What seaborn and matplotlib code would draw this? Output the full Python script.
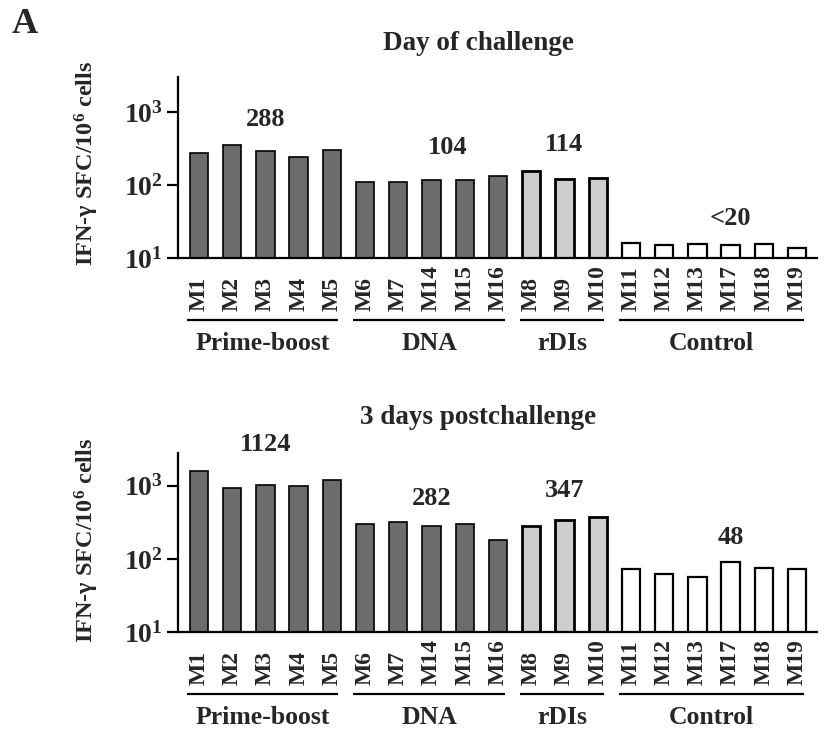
import matplotlib
matplotlib.use("Agg")
import matplotlib.pyplot as plt
import pandas as pd
import seaborn as sns
from matplotlib.transforms import ScaledTranslation
from matplotlib.ticker import LogLocator, LogFormatterSciNotation, NullLocator

# ---- data -----------------------------------------------------------------
animals = ["M1", "M2", "M3", "M4", "M5",
           "M6", "M7", "M14", "M15", "M16",
           "M8", "M9", "M10",
           "M11", "M12", "M13", "M17", "M18", "M19"]
groups = (["Prime-boost"] * 5 + ["DNA"] * 5 + ["rDIs"] * 3 + ["Control"] * 6)
group_order = ["Prime-boost", "DNA", "rDIs", "Control"]

# IFN-gamma spot-forming cells per 10^6 cells
day_of_challenge = [272, 353, 292, 244, 299,
                    108, 110, 115, 118, 134,
                    154, 121, 126,
                    16.2, 15.1, 15.4, 15.1, 15.5, 13.5]
postchallenge_3d = [1600, 930, 1020, 980, 1210,
                    301, 318, 283, 301, 180,
                    283, 339, 369,
                    73, 62, 56, 90, 74, 72]

panel_titles = ["Day of challenge", "3 days postchallenge"]
group_means_text = [["288", "104", "114", "<20"],
                    ["1124", "282", "347", "48"]]

# ---- styling ----------------------------------------------------------------
group_colors = {"Prime-boost": "#6c6c6c", "DNA": "#6c6c6c",
                "rDIs": "#cdcdcd", "Control": "#ffffff"}
group_edge_lw = {"Prime-boost": 1.2, "DNA": 1.2, "rDIs": 2.0, "Control": 1.6}
# placement of the group-mean labels (bar index, height on the value axis)
mean_label_pos = [[(2, 776), (7.5, 321), (11, 353), (16, 35)],
                  [(2, 3606), (7, 676), (11, 871), (16, 198)]]
y_tops = [3000, 2800]

sns.set_theme(style="white")
plt.rcParams["font.family"] = ["Liberation Serif", "DejaVu Serif"]
plt.rcParams["font.weight"] = "bold"
plt.rcParams["mathtext.fontset"] = "custom"
plt.rcParams["mathtext.rm"] = "Liberation Serif:bold"
plt.rcParams["mathtext.bf"] = "Liberation Serif:bold"
plt.rcParams["mathtext.it"] = "Liberation Serif:bold"

fig = plt.figure(figsize=(8.31, 7.32), dpi=100)
W, H = 831, 732
axes_px = [(178, 77, 817, 258), (178, 453, 817, 632)]  # left, top, right, bottom

series = [day_of_challenge, postchallenge_3d]
title_y = [43, 418]
ylabel_y = [163, 540]

for p in range(2):
    l, t, r, b = axes_px[p]
    ax = fig.add_axes([l / W, 1 - b / H, (r - l) / W, (b - t) / H])
    df = pd.DataFrame({"animal": animals, "value": series[p], "group": groups})
    sns.barplot(data=df, x="animal", y="value", hue="group",
                order=animals, hue_order=group_order, palette=group_colors,
                dodge=False, width=0.55, edgecolor="black", linewidth=1.2,
                legend=False, log_scale=True, ax=ax)
    for grp, cont in zip(group_order, ax.containers):
        for patch in cont:
            patch.set_linewidth(group_edge_lw[grp])
            patch.set_edgecolor("black")

    ax.set_yscale("log")
    ax.set_ylim(10, y_tops[p])
    ax.set_xlim(-0.63, len(animals) - 0.4)
    ax.yaxis.set_major_locator(LogLocator(base=10, numticks=10))
    ax.yaxis.set_major_formatter(LogFormatterSciNotation())
    ax.yaxis.set_minor_locator(NullLocator())
    ax.set_xlabel("")
    ax.set_ylabel("")

    for side in ["top", "right"]:
        ax.spines[side].set_visible(False)
    for side in ["left", "bottom"]:
        ax.spines[side].set_linewidth(1.6)
        ax.spines[side].set_color("black")

    ax.tick_params(axis="y", which="major", direction="out", length=8,
                   width=1.6, color="black", labelsize=20, pad=3, left=True)
    ax.tick_params(axis="x", length=0, pad=38, labelsize=17)
    for lab in ax.get_xticklabels():
        lab.set_rotation(90)
        lab.set_va("bottom")
        lab.set_ha("center")
        lab.set_fontweight("bold")

    # group brackets and names under the tick labels
    for grp in group_order:
        idx = [i for i, g in enumerate(groups) if g == grp]
        x0, x1 = idx[0] - 0.35, idx[-1] + 0.2
        tr_line = ax.get_xaxis_transform() + ScaledTranslation(0, -62 / 100, fig.dpi_scale_trans)
        ax.plot([x0, x1], [0, 0], color="black", lw=1.6, transform=tr_line,
                clip_on=False, solid_capstyle="butt")
        tr_txt = ax.get_xaxis_transform() + ScaledTranslation(0, -85 / 100, fig.dpi_scale_trans)
        ax.text((x0 + x1) / 2, 0, grp, transform=tr_txt, ha="center", va="center",
                fontsize=18.5, fontweight="bold")

    # group mean values above the bars
    for txt, (xi, yv) in zip(group_means_text[p], mean_label_pos[p]):
        ax.text(xi, yv, txt, ha="center", va="center", fontsize=19,
                fontweight="bold", clip_on=False)

    fig.text(478 / W, 1 - title_y[p] / H, panel_titles[p], ha="center",
             va="center", fontsize=19.5, fontweight="bold")
    fig.text(87 / W, 1 - ylabel_y[p] / H, r"IFN-γ SFC/10$^{6}$ cells",
             rotation=90, ha="center", va="center", fontsize=17.5,
             fontweight="bold")

fig.text(12 / W, 1 - 33 / H, "A", ha="left", va="baseline", fontsize=26)

fig.savefig("out.png", dpi=100, facecolor="white")
